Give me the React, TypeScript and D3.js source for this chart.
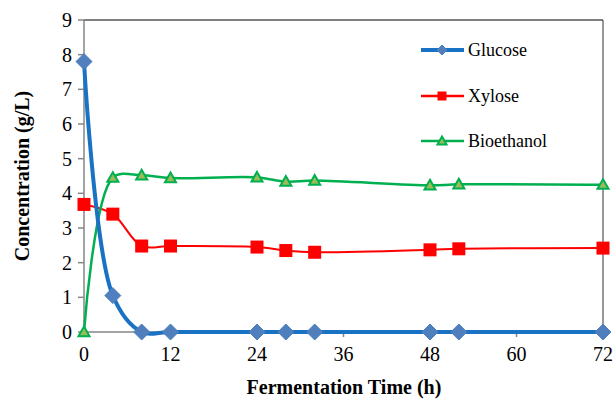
import React from "react";
import * as d3 from "d3";

const times = [0, 4, 8, 12, 24, 28, 32, 48, 52, 72];
const glucose = [7.8, 1.05, 0, 0, 0, 0, 0, 0, 0, 0];
const xylose = [3.68, 3.4, 2.48, 2.48, 2.45, 2.35, 2.3, 2.37, 2.4, 2.42];
const bioethanol = [0, 4.45, 4.52, 4.44, 4.46, 4.34, 4.37, 4.23, 4.26, 4.25];
const xTicks = [0, 12, 24, 36, 48, 60, 72];
const yTicks = [0, 1, 2, 3, 4, 5, 6, 7, 8, 9];

const margin = {left: 84, right: 13, top: 20, bottom: 68};
const W = 616, H = 400;
const FONT = "Liberation Serif";

export default function App() {
    const x = d3.scaleLinear().domain([0, 72]).range([margin.left, W - margin.right]);
    const y = d3.scaleLinear().domain([0, 9]).range([H - margin.bottom, margin.top]);

    const line = d3.line<[number, number]>()
        .x(d => x(d[0]))
        .y(d => y(d[1]))
        .curve(d3.curveCatmullRom.alpha(0.5));

    const pts = (vals: number[]) => times.map((t, i) => [t, vals[i]] as [number, number]);

    const diamond = (cx: number, cy: number, r: number) =>
        `M${cx},${cy - r}L${cx + r},${cy}L${cx},${cy + r}L${cx - r},${cy}Z`;
    const tri = (cx: number, cy: number, r: number) =>
        `M${cx},${cy - r}L${cx + r},${cy + r * 0.75}L${cx - r},${cy + r * 0.75}Z`;

    const legend = [
        {name: "Glucose", color: "#1a72c4", y: 50, kind: "d"},
        {name: "Xylose", color: "#ff0000", y: 96, kind: "s"},
        {name: "Bioethanol", color: "#00b050", y: 141, kind: "t"},
    ];

    const marker = (kind: string, cx: number, cy: number, big: boolean, key: any) => {
        if (kind === "d") {
            return <path key={key} d={diamond(cx, cy, big ? 8 : 5)} fill="#4f7fbd" stroke="#4f7fbd"/>;
        }
        if (kind === "s") {
            const s = big ? 13 : 9;
            return <rect key={key} x={cx - s / 2} y={cy - s / 2} width={s} height={s} fill="#ff0000"/>;
        }
        return <path key={key} d={tri(cx, cy, big ? 5.5 : 4.5)} fill="#9bbb59" stroke="#00b050" strokeWidth={2}/>;
    };

    return (
        <svg width={W} height={H} fontFamily={FONT} style={{position: "absolute", left: 0, top: 0, fontFamily: FONT}}>
            <rect width={W} height={H} fill="white"/>
            {/* frame */}
            <line x1={margin.left} x2={W - margin.right} y1={margin.top} y2={margin.top} stroke="#000" strokeWidth={1}/>
            <line x1={W - margin.right} x2={W - margin.right} y1={margin.top} y2={y(0)} stroke="#333" strokeWidth={1}/>
            <line x1={margin.left} x2={margin.left} y1={margin.top} y2={y(0)} stroke="#868686" strokeWidth={1.5}/>
            <line x1={margin.left} x2={W - margin.right} y1={y(0)} y2={y(0)} stroke="#868686" strokeWidth={1.5}/>

            {yTicks.map(t => (
                <g key={"y" + t}>
                    <line x1={margin.left - 6} x2={margin.left} y1={y(t)} y2={y(t)} stroke="#868686" strokeWidth={1.5}/>
                    <text x={margin.left - 12} y={y(t) + 7} textAnchor="end" fontFamily={FONT} fontSize={20}>{t}</text>
                </g>
            ))}
            {xTicks.map(t => (
                <g key={"x" + t}>
                    <line x1={x(t)} x2={x(t)} y1={y(0)} y2={y(0) + 5} stroke="#868686" strokeWidth={1.5}/>
                    <text x={x(t)} y={y(0) + 29} textAnchor="middle" fontFamily={FONT} fontSize={20}>{t}</text>
                </g>
            ))}

            <text x={344} y={394} textAnchor="middle" fontFamily={FONT} fontSize={20} fontWeight="bold">Fermentation Time (h)</text>
            <text transform={`translate(29,176) rotate(-90)`} textAnchor="middle" fontFamily={FONT} fontSize={20} fontWeight="bold">Concentration (g/L)</text>

            <path d={line(pts(xylose)) || ""} fill="none" stroke="#ff0000" strokeWidth={2}/>
            <path d={line(pts(bioethanol)) || ""} fill="none" stroke="#00b050" strokeWidth={2.5}/>
            <path d={line(pts(glucose)) || ""} fill="none" stroke="#1a72c4" strokeWidth={4}/>

            {times.map((t, i) => marker("s", x(t), y(xylose[i]), true, "s" + i))}
            {times.map((t, i) => marker("d", x(t), y(glucose[i]), true, "d" + i))}
            {times.map((t, i) => marker("t", x(t), y(bioethanol[i]), true, "t" + i))}

            {legend.map(l => (
                <g key={l.name}>
                    <line x1={421} x2={464} y1={l.y} y2={l.y} stroke={l.color} strokeWidth={l.kind === "d" ? 4 : 2.5}/>
                    {marker(l.kind, 442, l.y, false, l.name + "m")}
                    <text x={468} y={l.y + 6} fontFamily={FONT} fontSize={18}>{l.name}</text>
                </g>
            ))}
        </svg>
    );
}
